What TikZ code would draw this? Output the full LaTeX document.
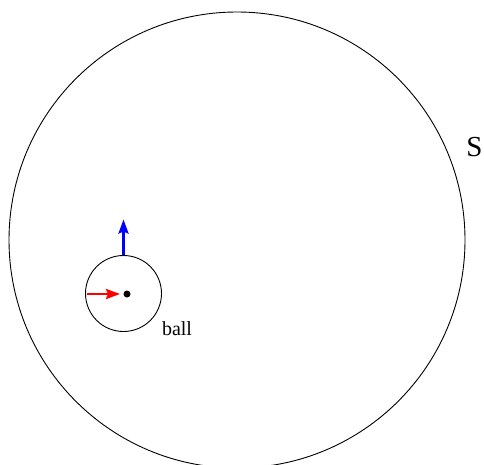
\documentclass[tikz,border=0pt]{standalone}
\usepackage{fontspec}
\setmainfont{Liberation Serif}
\usetikzlibrary{arrows.meta}
\begin{document}
\begin{tikzpicture}[x=1pt,y=-1pt,
  ring/.style={draw=black,line width=0.9pt},
  vec/.style={line width=2.6pt,-{Stealth[length=14pt,width=10pt,inset=2pt]}},
  lbl/.style={inner sep=0pt,anchor=center}]
\useasboundingbox (0,0) rectangle (484,465);
\node[ring,circle,minimum size=456pt,inner sep=0pt] (S) at (237,240) {};
\node[ring,circle,minimum size=76pt,inner sep=0pt] (ball) at (123.5,293.5) {};
\node[circle,fill=black,minimum size=7pt,inner sep=0pt] (c) at (127,294) {};
\coordinate (rs) at (86.5,294);
\coordinate (re) at (120,294);
\coordinate (bs) at (123.5,255);
\coordinate (be) at (123.5,219.5);
\draw[vec,red] (rs) -- (re);
\draw[vec,blue] (bs) -- (be);
\node[lbl,font=\fontsize{20}{22}\selectfont] (balllbl) at (177,329) {ball};
\node[lbl,font=\fontsize{29}{32}\selectfont] (Slbl) at (474.5,147) {S};
\end{tikzpicture}
\end{document}
